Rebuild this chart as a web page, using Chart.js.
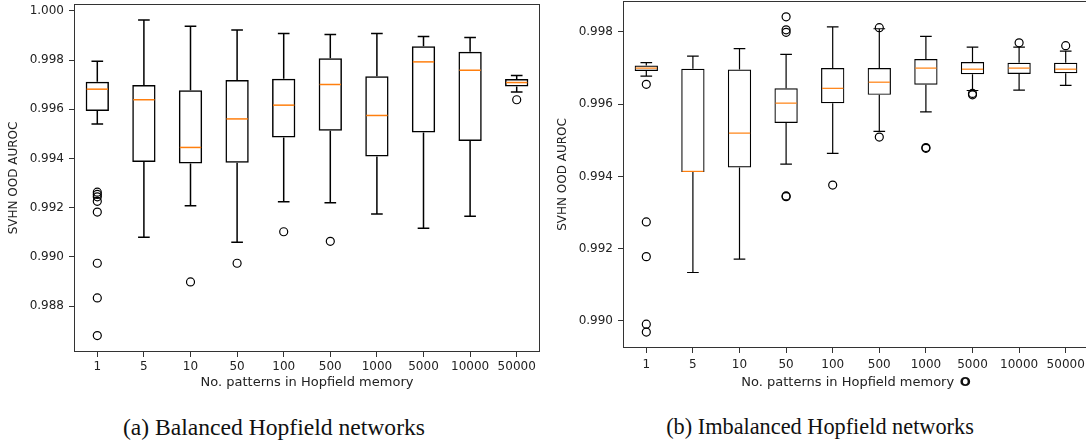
<!DOCTYPE html>
<html>
<head>
<meta charset="utf-8">
<script src="https://cdn.jsdelivr.net/npm/chart.js@4.4.1/dist/chart.umd.min.js"></script>
<style>
  html, body { margin: 0; padding: 0; background: #fff; width: 1086px; height: 442px; overflow: hidden; }
  #wrap { position: relative; width: 1086px; height: 442px; }
  canvas { position: absolute; top: 0; }
  .caption { position: absolute; top: 412px; font-family: 'Liberation Serif', serif; color: #111; text-align: center; line-height: 30px; white-space: nowrap; }
</style>
</head>
<body>
<div id="wrap">
  <canvas id="balanced" width="545" height="400" style="left:0"></canvas>
  <canvas id="imbalanced" width="545" height="400" style="left:545px"></canvas>
  <div class="caption" style="left:74px;width:400px;font-size:23.6px">(a) Balanced Hopfield networks</div>
  <div class="caption" style="left:620px;width:400px;font-size:22.3px">(b) Imbalanced Hopfield networks</div>
</div>
<script>
// Boxplots of SVHN OOD AUROC vs number of stored Hopfield patterns

const CATEGORIES = ['1', '5', '10', '50', '100', '500', '1000', '5000', '10000', '50000'];

// (a) balanced networks
const BAL_LOW  = [0.99540, 0.99080, 0.99208, 0.99059, 0.99224, 0.99220, 0.99174, 0.99116, 0.99165, 0.99670];
const BAL_Q1   = [0.99593, 0.99386, 0.99380, 0.99383, 0.99485, 0.99513, 0.99408, 0.99506, 0.99471, 0.99693];
const BAL_MED  = [0.99682, 0.99639, 0.99445, 0.99561, 0.99617, 0.99701, 0.99575, 0.99793, 0.99759, 0.99709];
const BAL_Q3   = [0.99712, 0.99699, 0.99678, 0.99719, 0.99724, 0.99808, 0.99735, 0.99857, 0.99834, 0.99723];
const BAL_HIGH = [0.99796, 0.99963, 0.99938, 0.99923, 0.99908, 0.99904, 0.99908, 0.99896, 0.99892, 0.99738];
const BAL_OUT  = [
  [0.99263, 0.99254, 0.99244, 0.99226, 0.99182, 0.98974, 0.98833, 0.98680],
  [], [0.98898], [0.98974], [0.99102], [0.99063], [], [], [], [0.99639]
];
const BAL_TICKS = [0.988, 0.990, 0.992, 0.994, 0.996, 0.998, 1.000];

// (b) imbalanced networks
const IMB_LOW  = [0.99678, 0.99134, 0.99171, 0.99434, 0.99464, 0.99525, 0.99579, 0.99638, 0.99639, 0.99652];
const IMB_Q1   = [0.99692, 0.99412, 0.99425, 0.99548, 0.99603, 0.99626, 0.99654, 0.99683, 0.99684, 0.99686];
const IMB_MED  = [0.99700, 0.99414, 0.99520, 0.99603, 0.99644, 0.99661, 0.99700, 0.99697, 0.99700, 0.99697];
const IMB_Q3   = [0.99707, 0.99698, 0.99696, 0.99644, 0.99700, 0.99700, 0.99725, 0.99717, 0.99715, 0.99715];
const IMB_HIGH = [0.99715, 0.99733, 0.99754, 0.99738, 0.99814, 0.99809, 0.99788, 0.99758, 0.99758, 0.99747];
const IMB_OUT  = [
  [0.99655, 0.99274, 0.99178, 0.98991, 0.98969],
  [], [], [0.99842, 0.99806, 0.99799, 0.99346, 0.99344],
  [0.99376], [0.99812, 0.99509], [0.99480, 0.99478], [0.99630, 0.99626], [0.99770], [0.99762]
];
const IMB_TICKS = [0.990, 0.992, 0.994, 0.996, 0.998];

const X_TITLE = 'No. patterns in Hopfield memory';
const Y_TITLE = 'SVHN OOD AUROC';

Chart.defaults.font.family = "'DejaVu Sans', sans-serif";
Chart.defaults.font.size = 12;
Chart.defaults.color = '#222';

// whiskers, caps, medians and the four-sided frame
const boxPlugin = {
  id: 'boxExtras',
  afterDatasetsDraw(chart, args, o) {
    const ctx = chart.ctx;
    const xs = chart.scales.x, ys = chart.scales.y;
    const cw = xs.width / CATEGORIES.length;
    ctx.save();
    ctx.lineWidth = o.lw;
    ctx.strokeStyle = '#000';
    CATEGORIES.forEach((c, i) => {
      const cx = xs.getPixelForValue(i);
      const capW = cw * 0.125;
      const boxW = cw * 0.25;
      const yl = ys.getPixelForValue(o.low[i]);
      const y1 = ys.getPixelForValue(o.q1[i]);
      const y3 = ys.getPixelForValue(o.q3[i]);
      const yh = ys.getPixelForValue(o.high[i]);
      ctx.beginPath();
      ctx.moveTo(cx, yl); ctx.lineTo(cx, y1);
      ctx.moveTo(cx, y3); ctx.lineTo(cx, yh);
      ctx.moveTo(cx - capW, yl); ctx.lineTo(cx + capW, yl);
      ctx.moveTo(cx - capW, yh); ctx.lineTo(cx + capW, yh);
      ctx.stroke();
      const ym = ys.getPixelForValue(o.med[i]);
      ctx.beginPath();
      ctx.strokeStyle = '#ff7f0e';
      ctx.moveTo(cx - boxW + 1, ym); ctx.lineTo(cx + boxW - 1, ym);
      ctx.stroke();
      ctx.strokeStyle = '#000';
    });
    ctx.restore();
  },
  afterDraw(chart, args, o) {
    const {ctx, chartArea: a} = chart;
    ctx.save();
    ctx.strokeStyle = '#333';
    ctx.lineWidth = 1;
    ctx.strokeRect(a.left + 0.5, a.top + 0.5, a.right - a.left - 1, a.bottom - a.top - 1);
    if (o.mark) {
      // stray bold marker after the x title
      ctx.font = "13px 'DejaVu Sans'";
      const w = ctx.measureText(o.xTitle).width;
      ctx.font = "bold 13px 'DejaVu Sans'";
      ctx.fillStyle = '#111';
      ctx.textAlign = 'right';
      ctx.textBaseline = 'middle';
      ctx.fillText(o.mark, (a.left + a.right) / 2 + w / 2, o.markY);
    }
    ctx.restore();
  }
};

function makeChart(id, d, lay) {
  const outliers = d.out.flatMap((vals, i) => vals.map(v => ({x: CATEGORIES[i], y: v})));
  return new Chart(document.getElementById(id), {
    type: 'bar',
    data: {
      labels: CATEGORIES,
      datasets: [
        {
          type: 'bar',
          data: d.q1.map((q, i) => [q, d.q3[i]]),
          backgroundColor: 'rgba(255,255,255,0)',
          borderColor: '#000',
          borderWidth: d.lw,
          borderSkipped: false,
          barPercentage: 0.5,
          categoryPercentage: 1.0
        },
        {
          type: 'scatter',
          data: outliers,
          pointStyle: 'circle',
          pointRadius: 4,
          backgroundColor: 'rgba(0,0,0,0)',
          borderColor: '#000',
          borderWidth: 1.2
        }
      ]
    },
    options: {
      responsive: false,
      animation: false,
      events: [],
      layout: { padding: lay.padding, autoPadding: false },
      plugins: {
        legend: { display: false },
        tooltip: { enabled: false },
        boxExtras: {
          low: d.low, q1: d.q1, med: d.med, q3: d.q3, high: d.high, lw: d.lw,
          mark: lay.mark, markY: lay.markY, xTitle: lay.xTitle
        }
      },
      scales: {
        x: {
          type: 'category',
          offset: true,
          border: { display: false },
          grid: { offset: false, drawOnChartArea: false, drawTicks: true, tickLength: 5, color: '#333' },
          ticks: { padding: lay.xTickPad, maxRotation: 0, autoSkip: false },
          title: { display: true, text: lay.xTitle, font: { size: 13 }, padding: { top: 0, bottom: 10 } },
          afterFit: s => {
            s.height = lay.xHeight;
            s.paddingLeft = 0; s.paddingRight = 0;
          }
        },
        y: {
          type: 'linear',
          min: d.min,
          max: d.max,
          beginAtZero: false,
          border: { display: false },
          grid: { drawOnChartArea: false, drawTicks: true, tickLength: 5, color: '#333' },
          ticks: { padding: 5, callback: v => v.toFixed(3) },
          afterBuildTicks: s => { s.ticks = d.ticks.map(v => ({value: v})); },
          title: { display: true, text: Y_TITLE, padding: { top: lay.yTitlePad, bottom: 0 } },
          afterFit: s => {
            s.width = lay.yWidth;
            s.paddingTop = 0; s.paddingBottom = 0;
          }
        }
      }
    },
    plugins: [boxPlugin]
  });
}

makeChart('balanced', {
  low: BAL_LOW, q1: BAL_Q1, med: BAL_MED, q3: BAL_Q3, high: BAL_HIGH, out: BAL_OUT,
  ticks: BAL_TICKS, min: 0.98613, max: 1.000284, lw: 1.5
}, {
  padding: { left: 0, top: 4, right: 5, bottom: 0 },
  yWidth: 74, xHeight: 48, xTickPad: 3, yTitlePad: 7, xTitle: X_TITLE
});

makeChart('imbalanced', {
  low: IMB_LOW, q1: IMB_Q1, med: IMB_MED, q3: IMB_Q3, high: IMB_HIGH, out: IMB_OUT,
  ticks: IMB_TICKS, min: 0.98925, max: 0.998858, lw: 1.2
}, {
  padding: { left: 0, top: 1, right: 1, bottom: 0 },
  yWidth: 78, xHeight: 52, xTickPad: 5, yTitlePad: 11,
  xTitle: X_TITLE + '    ', mark: 'O', markY: 383
});
</script>
</body>
</html>
